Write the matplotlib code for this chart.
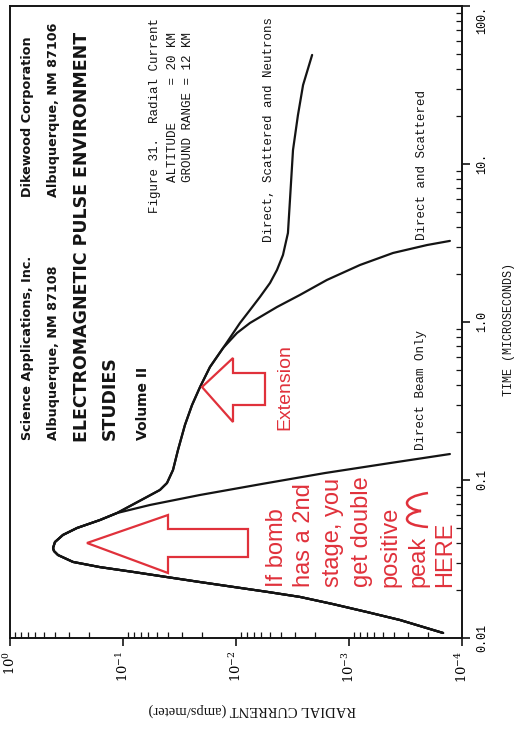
import matplotlib
matplotlib.use("Agg")
import matplotlib.pyplot as plt
from matplotlib.patches import Polygon, PathPatch
from matplotlib.path import Path
from matplotlib.transforms import Affine2D
from matplotlib.ticker import NullFormatter, LogLocator

W, H = 520, 736
RED = "#e0313b"
INK = "#141414"

plt.rcParams["mathtext.fontset"] = "dejavuserif"

# Rising edge shared by all three responses (time in microseconds, current in amps/meter)
rise_time = [0.01076, 0.0130, 0.0146, 0.0164, 0.0182, 0.0196, 0.0226, 0.0243, 0.0262,
             0.0281, 0.0303, 0.0335, 0.0355, 0.0371, 0.0405, 0.0449, 0.0497, 0.0558, 0.0618]
rise_current = [1.47e-4, 3.54e-4, 6.93e-4, 1.39e-3, 2.72e-3, 5.32e-3, 2.08e-2, 4.08e-2, 8.16e-2,
                0.160, 0.277, 0.376, 0.408, 0.416, 0.400, 0.340, 0.255, 0.160, 0.113]

# Decay of the direct beam alone
beam_time = [0.0695, 0.0804, 0.0944, 0.1107, 0.128, 0.146]
beam_current = [0.0577, 0.0208, 5.89e-3, 1.63e-3, 4.34e-4, 1.28e-4]

# Scattered-gamma shoulder common to the two extended curves
shoulder_time = [0.0781, 0.0865, 0.0957, 0.1157, 0.155, 0.223, 0.298, 0.388, 0.519, 0.685]
shoulder_current = [0.0614, 0.0471, 0.0408, 0.0361, 0.0326, 0.0283, 0.0245, 0.0208, 0.0170, 0.0130]

# Direct and scattered tail
scat_time = [0.852, 0.986, 1.244, 1.483, 1.845, 2.295, 2.734, 3.07, 3.26]
scat_current = [9.80e-3, 7.52e-3, 4.34e-3, 2.72e-3, 1.57e-3, 8.00e-4, 4.08e-4, 2.04e-4, 1.28e-4]

# Direct, scattered and neutron tail
neut_time = [0.986, 1.191, 1.44, 1.766, 2.134, 2.655, 3.66, 5.92, 12.26, 20.4, 31.6, 49.0]
neut_current = [9.22e-3, 7.52e-3, 6.14e-3, 5.00e-3, 4.34e-3, 3.84e-3, 3.47e-3, 3.33e-3,
                3.13e-3, 2.83e-3, 2.55e-3, 2.12e-3]

current_ticks = [1, 1e-1, 1e-2, 1e-3, 1e-4]
current_labels = [r"$10^{0}$", r"$10^{-1}$", r"$10^{-2}$", r"$10^{-3}$", r"$10^{-4}$"]
time_ticks = [0.01, 0.1, 1, 10, 100]
time_labels = ["0.01", "0.1", "1.0", "10.", "100."]

fig = plt.figure(figsize=(W / 100, H / 100), dpi=100)
fig.patch.set_facecolor("white")
ax = fig.add_axes([10 / W, 98 / H, 452 / W, 632 / H])
ax.set_xscale("log")
ax.set_yscale("log")
ax.set_xlim(1, 1e-4)
ax.set_ylim(0.01, 100)

curves = [
    (rise_time + beam_time, rise_current + beam_current),
    (rise_time + shoulder_time + scat_time, rise_current + shoulder_current + scat_current),
    (rise_time + shoulder_time + neut_time, rise_current + shoulder_current + neut_current),
]
for t, c in curves:
    ax.plot(c, t, color=INK, lw=1.6, solid_capstyle="round", solid_joinstyle="round")

for sp in ax.spines.values():
    sp.set_linewidth(1.4)
    sp.set_color(INK)

ax.yaxis.tick_right()
ax.xaxis.tick_bottom()
ax.set_xticks(current_ticks)
ax.set_xticklabels(current_labels)
ax.set_yticks(time_ticks)
ax.set_yticklabels(time_labels)
ax.xaxis.set_minor_locator(LogLocator(base=10, subs=range(2, 10)))
ax.yaxis.set_minor_locator(LogLocator(base=10, subs=range(2, 10)))
ax.xaxis.set_minor_formatter(NullFormatter())
ax.yaxis.set_minor_formatter(NullFormatter())
ax.tick_params(which="major", direction="out", length=6, width=1.2, color=INK)
ax.tick_params(which="minor", direction="in", length=4, width=0.9, color=INK)
ax.tick_params(axis="x", which="major", labelrotation=90, labelsize=9.5, pad=3)
ax.tick_params(axis="y", which="major", labelrotation=90, labelsize=8.5, pad=4)
ylabs = ax.get_yticklabels()
for lab in ylabs:
    lab.set_family("Liberation Mono")
    lab.set_va("center")
ylabs[-1].set_va("top")

pic = Affine2D().scale(1 / W, -1 / H).translate(0, 1) + fig.transFigure


def vtext(px, py, s, **kw):
    fig.text(px / W, 1 - py / H, s, rotation=90, rotation_mode="anchor",
             ha="left", va="center", **kw)


# Report header
head = dict(family="DejaVu Sans", weight="bold", color=INK)
vtext(28, 440, "Science Applications, Inc.", size=9.2, **head)
vtext(28, 197, "Dikewood Corporation", size=9.2, **head)
vtext(53, 440, "Albuquerque, NM 87108", size=9.2, **head)
vtext(53, 197, "Albuquerque, NM 87106", size=9.2, **head)
vtext(82, 442, "ELECTROMAGNETIC PULSE ENVIRONMENT", size=12.5, **head)
vtext(110, 440, "STUDIES", size=12.5, **head)
vtext(143, 440, "Volume II", size=10, **head)

mono = dict(family="Liberation Mono", color=INK, size=9)
vtext(155, 213, "Figure 31.  Radial Current", **mono)
vtext(173, 182, "ALTITUDE     = 20 KM", **mono)
vtext(188, 182, "GROUND RANGE = 12 KM", **mono)
vtext(269, 242, "Direct, Scattered and Neutrons", **mono)
vtext(422, 240, "Direct and Scattered", **mono)
vtext(421, 450, "Direct Beam Only", **mono)

fig.text(509 / W, 1 - 329 / H, "TIME (MICROSECONDS)", rotation=90, ha="center",
         va="center", family="Liberation Mono", size=8.5, color=INK)
fig.text(252 / W, 1 - 710 / H, "RADIAL CURRENT (amps/meter)", rotation=180, ha="center",
         va="center", family="Liberation Serif", size=10.5, color=INK)

# Red annotations
red = dict(family="Liberation Sans", color=RED)
vtext(285, 430, "Extension", size=14, **red)
note_lines = ["If bomb", "has a 2nd", "stage, you", "get double", "positive", "peak", "HERE"]
note_x = [277, 304, 333, 362, 390, 418, 445]
for lx, line in zip(note_x, note_lines):
    vtext(lx, 587, line, size=17, **red)

arrow_big = [(87, 543), (168, 515), (168, 529), (248, 529), (248, 557), (168, 557), (168, 573)]
arrow_small = [(202, 387), (233, 358), (233, 373), (265, 373), (265, 405), (233, 405), (233, 422)]
for pts in (arrow_big, arrow_small):
    fig.add_artist(Polygon(pts, closed=True, fill=False, edgecolor=RED, lw=1.6,
                           joinstyle="miter", transform=pic))

# Hand-drawn double hump after "peak"
hump_uv = [(0, 0), (1, 14), (4, 21), (8, 21), (12, 21), (15, 15), (16, 7),
           (17, 15), (20, 21), (24, 21), (28, 21), (32, 14), (34, 0)]
hump_pts = [(428 - v, 527 - u) for u, v in hump_uv]
codes = [Path.MOVETO] + [Path.CURVE4] * 12
fig.add_artist(PathPatch(Path(hump_pts, codes), fill=False, edgecolor=RED, lw=1.8,
                         transform=pic))

fig.savefig("out.png", dpi=100, facecolor="white")
